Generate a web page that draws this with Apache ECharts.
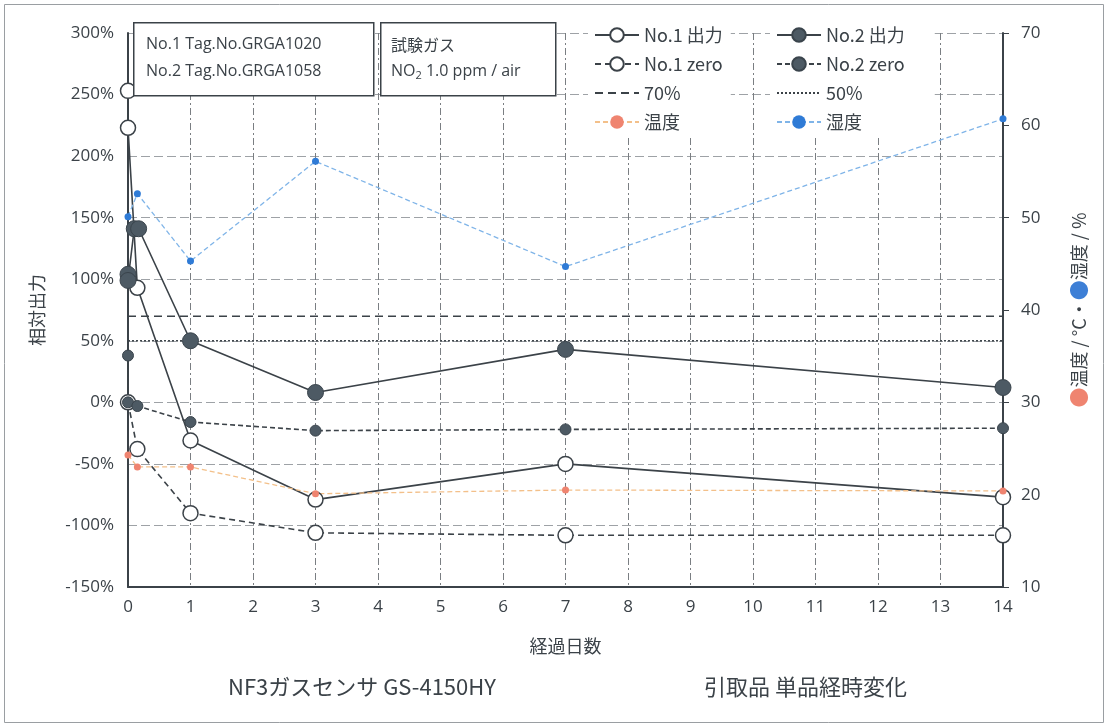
<!DOCTYPE html>
<html>
<head>
<meta charset="utf-8">
<script src="https://cdn.jsdelivr.net/npm/echarts@6/dist/echarts.min.js"></script>
<style>
  html, body { margin: 0; padding: 0; background: #fff; }
  #chart { width: 1105px; height: 725px; }
</style>
</head>
<body>
<div id="chart"></div>
<script>
// Elapsed days and relative output (%) for each sensor
const no1OutDays  = [0, 0, 0.15, 1, 3, 7, 14];
const no1Out      = [253, 223, 93, -31, -79, -50, -77];
const no1ZeroDays = [0, 0.15, 1, 3, 7, 14];
const no1Zero     = [0, -38, -90, -106, -108, -108];
const no2OutDays  = [0, 0, 0.1, 0.17, 1, 3, 7, 14];
const no2Out      = [104, 99, 141, 141, 50, 8, 43, 12];
const no2ZeroDays = [0, 0, 0.15, 1, 3, 7, 14];
const no2Zero     = [38, 0, -3, -16, -23, -22, -21];
// Reference levels (%)
const refDays = [0, 14];
const ref70 = [70, 70];
const ref50 = [50, 50];
// Ambient conditions (right axis)
const envDays  = [0, 0.15, 1, 3, 7, 14];
const tempC    = [24.3, 23.0, 23.0, 20.1, 20.5, 20.4];
const humidity = [50.1, 52.6, 45.3, 56.1, 44.7, 60.7];
// Axis ticks
const dayTicks = [0, 14, 1];
const pctTicks = [-150, 300, 50];
const envTicks = [10, 70, 10];

const pair = (xs, ys) => xs.map((x, i) => [x, ys[i]]);

const FONT = "'Open Sans', 'Noto Sans CJK JP', sans-serif";
const JP = "'Noto Sans CJK JP', 'Open Sans', sans-serif";
const INK = '#3b4248';
const DARK = '#4d5a64';
const NONE = 'rgba(0,0,0,0)';

const chart = echarts.init(document.getElementById('chart'));

const base = { type: 'line', clip: false, z: 3 };

chart.setOption({
  animation: false,
  backgroundColor: '#fff',
  textStyle: { fontFamily: FONT, color: INK },
  grid: { left: 128, right: 102, top: 33, bottom: 138 },
  xAxis: {
    type: 'value', min: dayTicks[0], max: dayTicks[1], interval: dayTicks[2],
    name: '経過日数', nameLocation: 'middle', nameGap: 50,
    nameTextStyle: { fontFamily: JP, fontSize: 18, color: INK },
    axisLine: { onZero: false, lineStyle: { color: INK, width: 2 } },
    axisTick: { show: false },
    axisLabel: { fontSize: 17, color: INK, margin: 12 },
    splitLine: { show: true, lineStyle: { color: '#7a7e82', type: [7, 3, 2, 3], width: 1 } }
  },
  yAxis: [
    {
      type: 'value', min: pctTicks[0], max: pctTicks[1], interval: pctTicks[2],
      name: '相対出力', nameLocation: 'middle', nameGap: 82, nameRotate: 90,
      nameTextStyle: { fontFamily: JP, fontSize: 18, color: INK },
      axisLine: { show: true, lineStyle: { color: INK, width: 2 } },
      axisTick: { show: false },
      axisLabel: { fontSize: 17, color: INK, formatter: '{value}%', margin: 14 },
      splitLine: { show: true, lineStyle: { color: '#9ea2a6', type: [9, 4], width: 1 } }
    },
    {
      type: 'value', min: envTicks[0], max: envTicks[1], interval: envTicks[2],
      position: 'right',
      name: '{o|●}温度 / °C・{b|●}湿度 / %', nameLocation: 'middle', nameGap: 66, nameRotate: 90,
      nameTextStyle: {
        fontFamily: JP, fontSize: 18, color: INK,
        rich: {
          o: { color: '#ef8470', fontSize: 20 },
          b: { color: '#3d7fd6', fontSize: 20 }
        }
      },
      axisLine: { show: true, lineStyle: { color: INK, width: 2 } },
      axisTick: { show: true, inside: false, length: 6, lineStyle: { color: INK } },
      axisLabel: { fontSize: 17, color: INK, margin: 18 },
      splitLine: { show: false }
    }
  ],
  legend: [
    {
      left: 588, top: 22, orient: 'vertical', itemGap: 11, itemWidth: 44, itemHeight: 17,
      backgroundColor: '#fff', padding: [4, 8, 4, 6],
      textStyle: { fontFamily: JP, fontSize: 18, color: INK },
      data: ['No.1 出力', 'No.1 zero', '70%', '温度']
    },
    {
      left: 770, top: 22, orient: 'vertical', itemGap: 11, itemWidth: 44, itemHeight: 17,
      backgroundColor: '#fff', padding: [4, 30, 4, 6],
      textStyle: { fontFamily: JP, fontSize: 18, color: INK },
      data: ['No.2 出力', 'No.2 zero', '50%', '湿度']
    }
  ],
  graphic: [
    {
      type: 'rect', left: 2, top: 2, z: 0,
      shape: { width: 1099, height: 718 },
      style: { fill: null, stroke: '#9a9ea2', lineWidth: 1 }
    },
    {
      type: 'rect', left: 133, top: 22, z: 10,
      shape: { width: 240, height: 73 },
      style: { fill: '#fff', stroke: INK, lineWidth: 1.5 }
    },
    {
      type: 'text', left: 146, top: 31, z: 11,
      style: { text: 'No.1 Tag.No.GRGA1020\nNo.2 Tag.No.GRGA1058', font: "16px " + FONT, fill: INK, lineHeight: 27 }
    },
    {
      type: 'rect', left: 380, top: 22, z: 10,
      shape: { width: 175, height: 73 },
      style: { fill: '#fff', stroke: INK, lineWidth: 1.5 }
    },
    {
      type: 'text', left: 391, top: 31, z: 11,
      style: {
        text: '{j|試験ガス}\n{t|NO}{s|2}{t| 1.0 ppm / air}',
        fill: INK, lineHeight: 27,
        rich: {
          j: { fontFamily: JP, fontSize: 16, color: INK, lineHeight: 27 },
          t: { fontFamily: FONT, fontSize: 16, color: INK, lineHeight: 27 },
          s: { fontFamily: FONT, fontSize: 11, color: INK, padding: [8, 0, 0, 0] }
        }
      }
    },
    {
      type: 'text', left: 228, top: 676, z: 11,
      style: { text: 'NF3ガスセンサ GS-4150HY', font: "22px " + JP, fill: INK }
    },
    {
      type: 'text', left: 704, top: 676, z: 11,
      style: { text: '引取品 単品経時変化', font: "22px " + JP, fill: INK }
    }
  ],
  series: [
    Object.assign({}, base, {
      name: 'No.1 出力', data: pair(no1OutDays, no1Out),
      symbol: 'circle', symbolSize: 15,
      lineStyle: { color: INK, width: 1.6 },
      itemStyle: { color: '#fff', borderColor: INK, borderWidth: 1.5 }
    }),
    Object.assign({}, base, {
      name: 'No.1 zero', data: pair(no1ZeroDays, no1Zero),
      symbol: 'circle', symbolSize: 15,
      lineStyle: { color: INK, width: 1.6, type: [6, 4] },
      itemStyle: { color: '#fff', borderColor: INK, borderWidth: 1.5 }
    }),
    Object.assign({}, base, {
      name: '70%', data: pair(refDays, ref70), symbol: 'none',
      lineStyle: { color: INK, width: 1.5, type: [8, 5] },
      itemStyle: { color: NONE, borderColor: NONE }, z: 2
    }),
    Object.assign({}, base, {
      name: '温度', yAxisIndex: 1, data: pair(envDays, tempC),
      symbol: 'circle', symbolSize: 7,
      lineStyle: { color: '#f3c08a', width: 1.3, type: [5, 3] },
      itemStyle: { color: '#ef8470' }
    }),
    Object.assign({}, base, {
      name: 'No.2 出力', data: pair(no2OutDays, no2Out),
      symbol: 'circle', symbolSize: 16,
      lineStyle: { color: INK, width: 1.6 },
      itemStyle: { color: DARK, borderColor: '#3a444c', borderWidth: 1 }
    }),
    Object.assign({}, base, {
      name: 'No.2 zero', data: pair(no2ZeroDays, no2Zero),
      symbol: 'circle', symbolSize: 11,
      lineStyle: { color: INK, width: 1.6, type: [5, 3] },
      itemStyle: { color: DARK, borderColor: '#3a444c', borderWidth: 1 }
    }),
    Object.assign({}, base, {
      name: '50%', data: pair(refDays, ref50), symbol: 'none',
      lineStyle: { color: INK, width: 1.5, type: [2, 2] },
      itemStyle: { color: NONE, borderColor: NONE }, z: 2
    }),
    Object.assign({}, base, {
      name: '湿度', yAxisIndex: 1, data: pair(envDays, humidity),
      symbol: 'circle', symbolSize: 7,
      lineStyle: { color: '#7fb4e8', width: 1.3, type: [5, 3] },
      itemStyle: { color: '#2f7bd6' }
    })
  ]
});
</script>
</body>
</html>
